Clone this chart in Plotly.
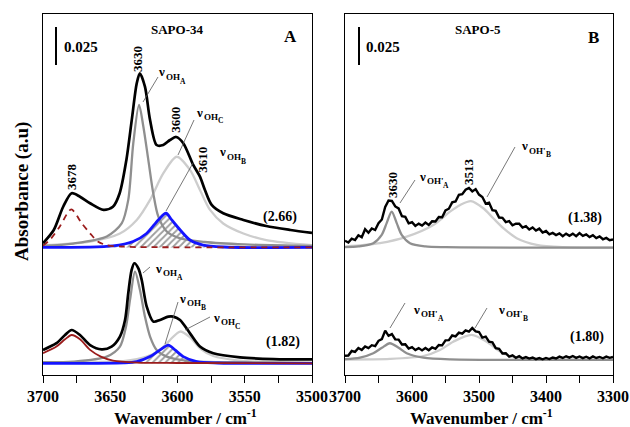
import plotly.graph_objects as go

W, H = 630, 427
SERIF = "Liberation Serif"

# ---------------- data: wavenumber (cm-1) and absorbance (1e-3 a.u.) ----------------
# Panel A  SAPO-34, upper spectrum (2.66)
a1_wn = [3700, 3692, 3685, 3678.7, 3672.5, 3665, 3655, 3648, 3643, 3638, 3634, 3630.3, 3628,
         3624.2, 3620.4, 3615.5, 3610.6, 3605.6, 3601, 3595.7, 3588.3, 3583.3, 3579.6, 3574.6,
         3566, 3551, 3534, 3516, 3500]
a1_abs = [2.8, 11.5, 26.8, 35.7, 33.4, 29.1, 24.7, 26.8, 35.7, 57.6, 83.9, 108.0, 114.6,
          105.8, 83.9, 67.4, 67.4, 70.7, 72.7, 68.6, 54.3, 46.6, 37.8, 28.0,
          22.5, 18.1, 14.1, 11.5, 9.6]
a1_3678_wn = [3700, 3695, 3687.6, 3679, 3671.2, 3665, 3659, 3652.7, 3640, 3620, 3500]
a1_3678 = [1.3, 4.9, 13.7, 25.0, 15.9, 9.3, 3.8, 1.6, 0.5, 0.2, 0]
a1_A_wn = [3700, 3677.5, 3652.6, 3641.5, 3636.6, 3632.9, 3628.6, 3625.4, 3621.7, 3618, 3614.3,
           3608, 3598, 3580, 3550, 3500]
a1_A = [1.0, 2.6, 7.2, 15.8, 31.3, 68.4, 93.8, 79.6, 57.6, 35.5, 20.4, 10.5, 6.0, 3.6, 2.0, 1.0]
a1_C_wn = [3700, 3665, 3642.8, 3630.3, 3620.4, 3610.6, 3600.6, 3590.7, 3583.3, 3575.8, 3566,
           3551, 3534, 3500]
a1_C = [1.5, 3.9, 9.2, 18.1, 31.3, 48.7, 59.7, 51.0, 37.8, 24.7, 15.8, 9.2, 4.9, 1.5]
a1_B_wn = [3700, 3648, 3633, 3623, 3614.3, 3608.5, 3604.3, 3598, 3590.7, 3581, 3566, 3500]
a1_B = [0, 1.0, 3.9, 9.2, 18.1, 22.5, 18.1, 11.5, 4.9, 1.6, 0.3, 0]

# Panel A  SAPO-34, lower spectrum (1.82)
a2_wn = [3700, 3690, 3683.6, 3678.7, 3672.5, 3665, 3656.4, 3649, 3642.8, 3639, 3636.6, 3634.1,
         3632.1, 3629.1, 3626.6, 3622.9, 3618, 3613, 3606.8, 3603.1, 3598.1, 3590.7, 3583.3,
         3573.4, 3553.5, 3528.7, 3500]
a2_abs = [8.8, 13.2, 18.6, 21.9, 18.6, 12.0, 9.2, 11.0, 17.6, 28.5, 46.1, 61.4,
          65.8, 62.5, 54.8, 37.3, 27.4, 28.5, 30.7, 30.7, 28.5, 19.7, 11.0,
          6.6, 3.9, 2.8, 2.6]
a2_3678_wn = [3700, 3690, 3683.6, 3678.7, 3672.5, 3665, 3657, 3648, 3630, 3600, 3500]
a2_3678 = [6.6, 11.0, 15.8, 18.6, 15.8, 8.8, 4.4, 1.8, 0.5, 0.2, 0]
a2_A_wn = [3700, 3677.5, 3652.6, 3642.8, 3638.3, 3635.3, 3631.6, 3627.9, 3624.2, 3620.4, 3615.5,
           3608, 3590.7, 3550, 3500]
a2_A = [0.7, 1.1, 4.4, 11.0, 24.1, 41.7, 60.3, 48.2, 30.7, 17.6, 8.8, 4.4, 1.5, 0.7, 0.3]
a2_C_wn = [3700, 3660, 3640.3, 3622.9, 3613, 3605.6, 3598.1, 3590.7, 3583.3, 3573.4, 3553.5,
           3529, 3500]
a2_C = [0.5, 0.8, 1.5, 4.4, 8.8, 15.3, 20.9, 17.1, 9.9, 4.8, 1.8, 0.7, 0.3]
a2_B_wn = [3700, 3640, 3630.3, 3620.4, 3613, 3606.8, 3601.9, 3595.7, 3585.7, 3570, 3500]
a2_B = [0, 0.3, 1.1, 4.4, 8.8, 12.0, 8.8, 4.4, 1.1, 0.2, 0]

# Panel B  SAPO-5 (spectra sampled every 5 cm-1 from 3700 to 3300)
b_wn = list(range(3700, 3299, -5))
b1_abs = [4.7, 3.6, 6.1, 5.2, 8.3, 7.0, 12.3, 10.0, 12.8, 11.8, 16.2, 18.7, 26.9, 31.2, 30.9,
          27.3, 26.0, 20.9, 20.4, 16.2, 16.9, 14.5, 16.0, 14.7, 16.7, 15.1, 17.5, 17.4, 20.3,
          20.2, 24.7, 25.8, 30.0, 30.6, 35.0, 35.4, 38.3, 39.5, 37.2, 38.7, 35.1, 33.5, 29.2,
          29.8, 24.8, 24.4, 20.0, 19.8, 17.0, 17.6, 14.9, 15.9, 15.9, 13.4, 14.3, 12.1, 13.5,
          11.4, 12.7, 10.1, 11.1, 8.9, 9.9, 8.5, 9.6, 7.7, 9.4, 8.0, 9.4, 7.7, 9.7, 7.9, 8.9,
          7.1, 8.4, 6.5, 7.6, 5.7, 6.6, 5.1, 5.6]
b2_abs = [2.8, 2.9, 5.9, 5.3, 7.9, 6.6, 8.9, 7.8, 9.7, 9.1, 12.6, 13.7, 19.3, 15.9, 17.0,
          13.5, 13.4, 10.2, 10.3, 7.5, 8.4, 6.5, 7.8, 6.3, 7.9, 6.4, 8.2, 7.3, 9.8, 9.6, 12.9,
          13.0, 16.1, 15.5, 18.0, 17.3, 19.5, 18.6, 21.0, 18.8, 18.4, 14.7, 15.3, 12.0, 11.6,
          7.8, 7.3, 4.3, 4.4, 2.2, 3.0, 1.4, 2.5, 1.0, 1.9, 0.9, 1.6, 0.5, 1.2, 0.4, 1.3, 0.6,
          1.6, 1.0, 2.2, 1.3, 2.4, 1.5, 2.6, 1.4, 2.3, 1.2, 2.1, 1.0, 2.3, 1.3, 2.0, 1.1, 2.2,
          1.4, 2.0]
b1_A_wn = [3700, 3680, 3657.8, 3645.2, 3637.8, 3630.3, 3622.8, 3615.4, 3603, 3580, 3550, 3300]
b1_A = [0.5, 1.0, 3.1, 8.6, 16.3, 23.9, 16.3, 8.6, 3.1, 1.0, 0.5, 0.2]
b1_B_wn = [3700, 3647.8, 3607.9, 3568.2, 3543.3, 3528, 3512, 3493.6, 3478.7, 3463.7, 3443.7,
           3413.9, 3374.6, 3300]
b1_B = [0.9, 3.1, 7.4, 15.1, 23.9, 28.3, 30.8, 26.1, 19.5, 13.0, 6.4, 2.0, 0.5, 0.2]
b2_A_wn = [3700, 3677.6, 3657.8, 3645, 3633, 3620, 3607.9, 3583.1, 3543, 3300]
b2_A = [0.5, 1.5, 4.4, 8.0, 11.0, 8.0, 4.4, 1.5, 0.4, 0.1]
b2_B_wn = [3700, 3632.8, 3583.1, 3558.2, 3538.4, 3511, 3488.5, 3468.7, 3448.8, 3419, 3300]
b2_B = [0.3, 0.7, 2.6, 6.6, 12.0, 16.5, 12.0, 5.5, 1.8, 0.5, 0.1]

ratio_labels = ["(2.66)", "(1.82)", "(1.38)", "(1.80)"]
scale_bar = 25.0          # 0.025 a.u.
# stacking offsets of the spectra (1e-3 a.u.)
OFF_A1, OFF_A2, OFF_B1, OFF_B2 = 83.9, 7.7, 83.6, 9.9
Y_MAX = 237.5

BLACK, DGRAY, LGRAY, BLUE, RED = "black", "#8f8f8f", "#cdcdcd", "#1414ff", "#9b1c1c"

fig = go.Figure()


def add(x, y, off, color, width, xa, dash="solid", shape="spline", fill=None, pattern=None):
    yy = [v + off for v in y]
    kw = {}
    if fill:
        kw = dict(fill=fill, fillpattern=pattern, fillcolor="rgba(0,0,0,0)")
    fig.add_trace(go.Scatter(x=x, y=yy, mode="lines", xaxis=xa, yaxis=xa.replace("x", "y"),
                             line=dict(color=color, width=width, dash=dash, shape=shape,
                                       smoothing=0.8),
                             hoverinfo="skip", showlegend=False, **kw))


hatch = dict(shape="/", fgcolor="#3c3c3c", bgcolor="rgba(255,255,255,0)", size=4.5, solidity=0.4)

# ----- panel A -----
for wn_b, b, off in [(a1_B_wn, a1_B, OFF_A1), (a2_B_wn, a2_B, OFF_A2)]:
    add([wn_b[0], wn_b[-1]], [0, 0], off, "rgba(0,0,0,0)", 0, "x", shape="linear")
    add(wn_b, b, off, "rgba(0,0,0,0)", 0, "x", fill="tonexty", pattern=hatch)

add(a1_C_wn, a1_C, OFF_A1, LGRAY, 2.3, "x")
add(a1_A_wn, a1_A, OFF_A1, DGRAY, 2.3, "x")
add(a1_B_wn, a1_B, OFF_A1, BLUE, 2.8, "x")
add(a1_3678_wn, a1_3678, OFF_A1, RED, 1.8, "x", dash="6px,5px")
add(a1_wn, a1_abs, OFF_A1, BLACK, 2.7, "x")

add(a2_C_wn, a2_C, OFF_A2, LGRAY, 2.3, "x")
add(a2_A_wn, a2_A, OFF_A2, DGRAY, 2.3, "x")
add(a2_B_wn, a2_B, OFF_A2, BLUE, 2.8, "x")
add(a2_3678_wn, a2_3678, OFF_A2, RED, 1.8, "x")
add(a2_wn, a2_abs, OFF_A2, BLACK, 2.7, "x")

# ----- panel B -----
add(b1_B_wn, b1_B, OFF_B1, LGRAY, 2.3, "x2")
add(b1_A_wn, b1_A, OFF_B1, DGRAY, 2.3, "x2")
add(b_wn, b1_abs, OFF_B1, BLACK, 2.4, "x2", shape="linear")
add(b2_B_wn, b2_B, OFF_B2, LGRAY, 2.3, "x2")
add(b2_A_wn, b2_A, OFF_B2, DGRAY, 2.3, "x2")
add(b_wn, b2_abs, OFF_B2, BLACK, 2.4, "x2", shape="linear")


def P(xp, yp):
    return xp / W, 1 - yp / H


tickfont = dict(family=SERIF, size=16, color="black", weight="bold")
xcommon = dict(showline=True, linecolor="black", linewidth=1.4, mirror=True, ticks="outside",
               ticklen=7, tickwidth=1.3, tickcolor="black", showgrid=False, zeroline=False,
               tickfont=tickfont, automargin=False)
ycommon = dict(showline=True, linecolor="black", linewidth=1.4, mirror=True, ticks="",
               showticklabels=False, showgrid=False, zeroline=False, range=[0, Y_MAX],
               domain=[1 - 375 / H, 1 - 14 / H], automargin=False)

fig.update_layout(
    width=W, height=H, margin=dict(l=0, r=0, t=0, b=0, pad=0), autosize=False,
    paper_bgcolor="white", plot_bgcolor="white",
    xaxis=dict(domain=[43 / W, 312 / W], range=[3700, 3500], tickvals=[3700, 3650, 3600, 3550, 3500],
               minor=dict(dtick=25, ticks="outside", ticklen=7, tickwidth=1.3, tickcolor="black"),
               anchor="y", **xcommon),
    yaxis=dict(anchor="x", **ycommon),
    xaxis2=dict(domain=[345 / W, 613 / W], range=[3700, 3300], tickvals=[3700, 3600, 3500, 3400, 3300],
                minor=dict(dtick=50, ticks="outside", ticklen=7, tickwidth=1.3, tickcolor="black"),
                anchor="y2", **xcommon),
    yaxis2=dict(anchor="x2", **ycommon),
)

anns = []
shapes = []


def T(xp, yp, text, size=13, angle=0, xanchor="center"):
    x, y = P(xp, yp)
    anns.append(dict(x=x, y=y, xref="paper", yref="paper", text=text, showarrow=False,
                     textangle=angle, xanchor=xanchor, yanchor="middle", borderpad=0,
                     font=dict(family=SERIF, size=size, color="black", weight="bold")))


def L(x0, y0, x1, y1, color="#555555", width=0.8):
    a, b = P(x0, y0)
    c, d = P(x1, y1)
    shapes.append(dict(type="line", xref="paper", yref="paper", x0=a, y0=b, x1=c, y1=d,
                       line=dict(color=color, width=width)))


def NU(xp, yp, sub, letter):
    T(xp, yp, "ν", 13, xanchor="left")
    T(xp + 7.5, yp + 5, sub, 9, xanchor="left")
    T(xp + 7.5 + (14.5 if sub == "OH" else 17), yp + 9, letter, 7.5, xanchor="left")


# panel titles and scale bars
T(177, 30, "SAPO-34", 13)
T(290, 37, "A", 17)
T(478, 30, "SAPO-5", 13)
T(593, 38, "B", 17)
for xb, xt in [(56, 63), (359, 365)]:
    L(xb, 27, xb, 65, "black", 2)
    T(xt, 47, "0.025", 15, xanchor="left")

# peak labels
T(71, 177, "3678", 13, -90)
T(138, 59, "3630", 13, -90)
T(175.7, 120, "3600", 13, -90)
T(201.7, 160, "3610", 13, -90)
T(392, 185, "3630", 13, -90)
T(468, 172, "3513", 13, -90)

# band labels
NU(157, 72, "OH", "A")
NU(195, 112, "OH", "C")
NU(218, 152, "OH", "B")
L(158, 77, 143, 102)
L(194, 120, 178, 155)
L(193, 163, 166, 211)

NU(154, 268, "OH", "A")
NU(178, 298, "OH", "B")
NU(212, 317, "OH", "C")
L(150, 267, 143, 273)
L(178, 302, 165, 344)
L(210, 317, 185, 330)

NU(418, 176, "OH'", "A")
NU(520, 146, "OH'", "B")
L(415, 180, 400, 203)
L(515, 147, 487, 197)
NU(412, 309, "OH'", "A")
NU(497, 309, "OH'", "B")
L(405, 303, 390, 328)
L(487, 308, 475, 328)

# ratio labels
for (xp, yp), t in zip([(280, 217), (283, 342), (585, 218), (587, 337)], ratio_labels):
    T(xp, yp, t, 14)

# axis titles
T(185, 417, "Wavenumber / cm<sup>-1</sup>", 17)
T(482, 417, "Wavenumber / cm<sup>-1</sup>", 17)
T(22, 192, "Absorbance (a.u)", 19, -90)

fig.update_layout(annotations=anns, shapes=shapes)
fig.write_html("out.html", config={"displayModeBar": False},
               post_script="document.body.style.margin='0';document.body.style.overflow='hidden';")
